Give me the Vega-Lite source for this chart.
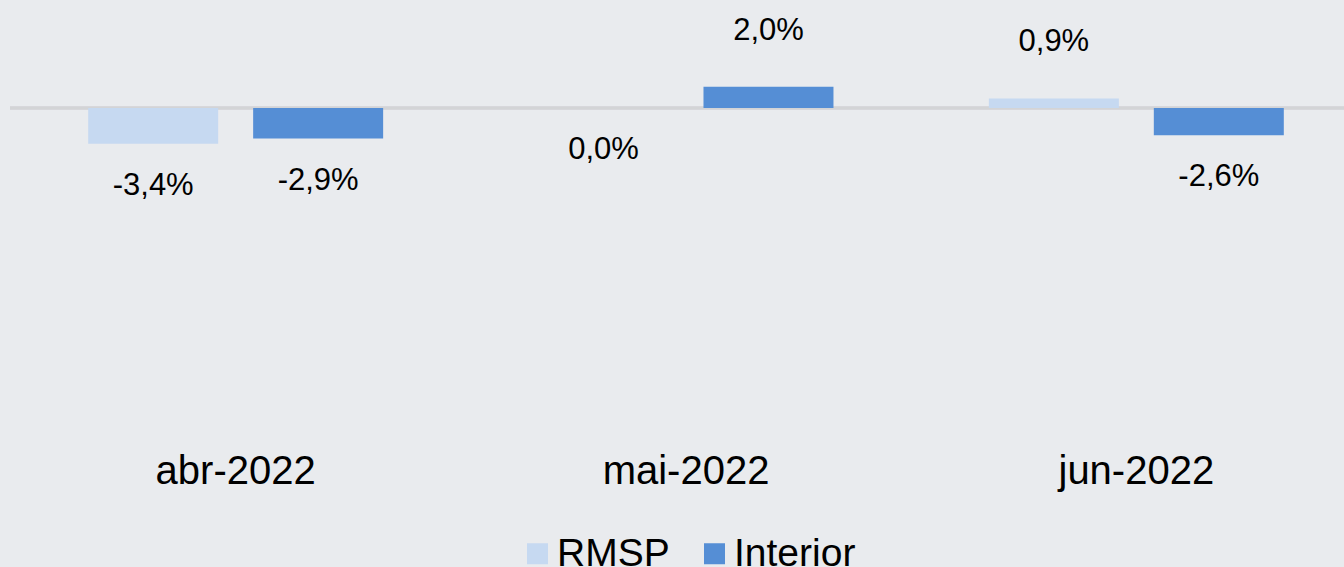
{
  "$schema": "https://vega.github.io/schema/vega-lite/v6.json",
  "width": 1334,
  "height": 440,
  "autosize": {"type": "none"},
  "padding": {"left": 10, "top": 0, "right": 0, "bottom": 127},
  "background": "#e9ebee",
  "config": {
    "view": {"stroke": null},
    "font": "Liberation Sans",
    "text": {"font": "Liberation Sans"}
  },
  "data": {
    "values": [
      {"mes": "abr-2022", "serie": "RMSP", "valor": -3.4, "rotulo": "-3,4%"},
      {"mes": "abr-2022", "serie": "Interior", "valor": -2.9, "rotulo": "-2,9%"},
      {"mes": "mai-2022", "serie": "RMSP", "valor": 0.0, "rotulo": "0,0%"},
      {"mes": "mai-2022", "serie": "Interior", "valor": 2.0, "rotulo": "2,0%"},
      {"mes": "jun-2022", "serie": "RMSP", "valor": 0.9, "rotulo": "0,9%"},
      {"mes": "jun-2022", "serie": "Interior", "valor": -2.6, "rotulo": "-2,6%"}
    ]
  },
  "encoding": {
    "x": {
      "field": "mes", "type": "nominal",
      "sort": ["abr-2022", "mai-2022", "jun-2022"],
      "scale": {"range": [0.5, 1351.5], "paddingInner": 0, "paddingOuter": 0},
      "axis": {"title": null, "labelAngle": 0, "labelFontSize": 40, "labelColor": "#000000", "labelFont": "Liberation Sans", "domain": false, "ticks": false, "labelPadding": 31, "labelBaseline": "middle", "grid": false}
    },
    "xOffset": {
      "field": "serie", "type": "nominal",
      "sort": ["RMSP", "Interior"],
      "scale": {"paddingInner": 0.212, "paddingOuter": 0.471}
    },
    "y": {
      "field": "valor", "type": "quantitative",
      "scale": {"domain": [-31.5, 10.24], "nice": false, "zero": false},
      "axis": null
    }
  },
  "layer": [
    {
      "mark": {"type": "rule", "color": "#d3d4d6", "strokeWidth": 2.5},
      "encoding": {"y": {"datum": 0}, "x": null, "xOffset": null}
    },
    {
      "mark": {"type": "bar"},
      "encoding": {
        "color": {
          "field": "serie", "type": "nominal",
          "sort": ["RMSP", "Interior"],
          "scale": {"domain": ["RMSP", "Interior"], "range": ["#c6d9f1", "#558ed5"]},
          "legend": {
            "title": null, "orient": "none", "direction": "horizontal",
            "legendX": 508, "legendY": 534,
            "symbolType": "square", "symbolSize": 441, "symbolStrokeWidth": 0,
            "labelFontSize": 39, "labelFont": "Liberation Sans", "labelColor": "#000000",
            "labelOffset": 0, "columnPadding": 25, "padding": 0, "labelLimit": 300
          }
        }
      }
    },
    {
      "transform": [{"filter": "datum.valor <= 0"}],
      "mark": {"type": "text", "fontSize": 31, "baseline": "middle", "dy": 42, "color": "#000000"},
      "encoding": {"text": {"field": "rotulo"}}
    },
    {
      "transform": [{"filter": "datum.valor > 0"}],
      "mark": {"type": "text", "fontSize": 31, "baseline": "middle", "dy": -56, "color": "#000000"},
      "encoding": {"text": {"field": "rotulo"}}
    }
  ]
}
